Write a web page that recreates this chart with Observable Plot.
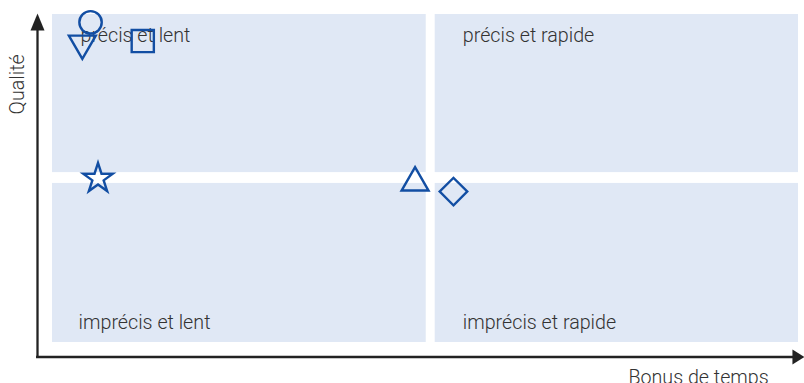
<!DOCTYPE html>
<html><head><meta charset="utf-8">
<script src="https://cdn.jsdelivr.net/npm/d3@7"></script>
<script src="https://cdn.jsdelivr.net/npm/@observablehq/plot@0.6"></script>
<style>body{margin:0;background:#fff}svg{display:block}</style>
</head><body><div id="chart"></div>
<script>
// Quadrant bounds
const quadX1 = [0, 51.3, 0, 51.3];
const quadX2 = [50.1, 100, 50.1, 100];
const quadY1 = [51.8, 51.8, 0, 0];
const quadY2 = [100, 100, 48.5, 48.5];
const quadLabels = ["précis et lent", "précis et rapide", "imprécis et lent", "imprécis et rapide"];
const labelX = [3.75, 55.0, 3.5, 55.0];
const labelY = [93.6, 93.6, 6.1, 6.1];

// Points
const symbols = ["circle", "triangle", "square", "star", "triangle", "square"];
const rotations = [0, 180, 0, 0, 0, 45];
const sizes = [11.2, 10, 12.5, 9.3, 10, 11];
const ptX = [5.1, 4.0, 12.1, 6.1, 48.6, 53.75];
const ptY = [97.6, 91.2, 91.9, 50, 48.7, 46.0];

// Axes
const axisXStart = -2.14, axisXEnd = 100.8;
const axisYStart = -4.7, axisYEnd = 100.3;
const axisXPos = -4.42, axisYPos = -2.01;
const axisTitles = ["Qualité", "Bonus de temps"];
const titleX = [-4.69, 86.6];
const titleY = [78.7, -10.6];
const titleRot = [-90, 0];

const quads = quadLabels.map((l, i) => ({x1: quadX1[i], x2: quadX2[i], y1: quadY1[i], y2: quadY2[i], label: l, lx: labelX[i], ly: labelY[i]}));
const pts = symbols.map((s, i) => ({s, r: rotations[i], size: sizes[i], x: ptX[i], y: ptY[i]}));
const titles = axisTitles.map((t, i) => ({t, x: titleX[i], y: titleY[i], rot: titleRot[i]}));

const headY = {draw(ctx) { ctx.moveTo(0, 0); ctx.lineTo(-7, 17); ctx.lineTo(7, 17); ctx.closePath(); }};
const headX = {draw(ctx) { ctx.moveTo(0, 0); ctx.lineTo(-7.5, 12); ctx.lineTo(7.5, 12); ctx.closePath(); }};
const heads = [{x: axisYPos, y: axisYEnd, rot: 0, s: headY}, {x: axisXEnd, y: axisXPos, rot: 90, s: headX}];

const blue = "#124ea3";
const chart = Plot.plot({
  width: 804, height: 383,
  marginLeft: 52, marginRight: 6, marginTop: 14, marginBottom: 41,
  x: {domain: [0, 100], axis: null},
  y: {domain: [0, 100], axis: null},
  r: {type: "identity"},
  symbol: {type: "identity"},
  style: {fontFamily: "Roboto, sans-serif", background: "#fff"},
  marks: [
    Plot.rect(quads, {x1: "x1", x2: "x2", y1: "y1", y2: "y2", fill: "#e0e8f5"}),
    Plot.text(quads, {x: "lx", y: "ly", text: "label", textAnchor: "start", fontSize: 19.7, fontWeight: 300, fill: "#333"}),
    Plot.ruleX([axisYPos], {y1: axisYStart, y2: axisYEnd - 3, stroke: "#222", strokeWidth: 2.3}),
    Plot.ruleY([axisXPos], {x1: axisXStart, x2: axisXEnd - 1, stroke: "#222", strokeWidth: 2.3}),
    Plot.dot(heads.slice(0, 1), {x: "x", y: "y", rotate: "rot", symbol: headY, fill: "#222", stroke: "none", r: 5}),
    Plot.dot(heads.slice(1), {x: "x", y: "y", rotate: "rot", symbol: headX, fill: "#222", stroke: "none", r: 5}),
    Plot.dot(pts, {x: "x", y: "y", symbol: "s", rotate: "r", r: "size", stroke: blue, strokeWidth: 2.4, fill: "none"}),
    Plot.text(titles, {x: "x", y: "y", text: "t", rotate: "rot", fontSize: 19.7, fontWeight: 300, fill: "#333"})
  ]
});
document.getElementById("chart").append(chart);
</script></body></html>
